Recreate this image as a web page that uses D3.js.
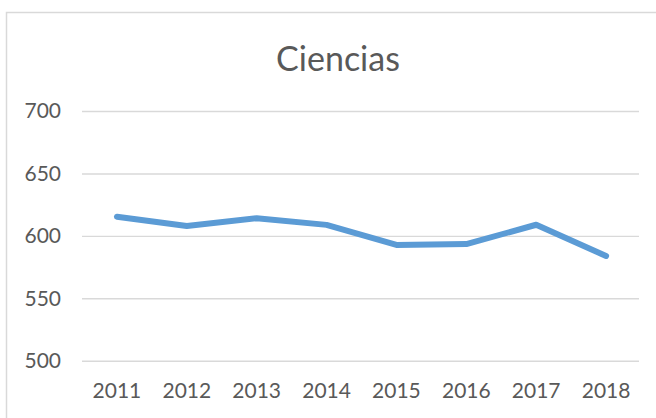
<!DOCTYPE html>
<html>
<head>
<meta charset="utf-8">
<script src="https://cdn.jsdelivr.net/npm/d3@7"></script>
<style>
  body { margin: 0; background: #fff; }
  svg { display: block; }
  .tick text { font-family: Lato, "Open Sans", sans-serif; fill: #595959; }
</style>
</head>
<body>
<svg width="656" height="418"></svg>
<script>
var years = ["2011", "2012", "2013", "2014", "2015", "2016", "2017", "2018"];
var ciencias = [615.3, 607.9, 614.1, 608.8, 592.7, 593.4, 608.9, 583.9];
var yTicks = [500, 550, 600, 650, 700];

var svg = d3.select("svg"),
    width = +svg.attr("width"),
    height = +svg.attr("height");

// chart frame, runs off the right and bottom edges like the screenshot
svg.append("rect")
    .attr("x", 6.5)
    .attr("y", 12.5)
    .attr("width", 700)
    .attr("height", 500)
    .attr("fill", "#fff")
    .attr("stroke", "#d9d9d9")
    .attr("stroke-width", 1.5);

var x = d3.scaleBand().domain(years).range([82, 641]);
var y = d3.scaleLinear().domain([500, 700]).range([360.7, 111]);

svg.append("text")
    .attr("x", 338)
    .attr("y", 71)
    .attr("text-anchor", "middle")
    .attr("font-family", "Lato, 'Open Sans', sans-serif")
    .attr("font-size", 34)
    .attr("fill", "#595959")
    .text("Ciencias");

var yAxis = svg.append("g")
    .attr("transform", "translate(82,0)")
    .call(d3.axisLeft(y).tickValues(yTicks).tickSize(-557).tickPadding(21));
yAxis.select(".domain").remove();
yAxis.selectAll(".tick line").attr("stroke", "#d9d9d9").attr("stroke-width", 1.4);
yAxis.selectAll(".tick text").attr("font-size", 21);

var xAxis = svg.append("g")
    .attr("transform", "translate(0," + y(500) + ")")
    .call(d3.axisBottom(x).tickSize(0).tickPadding(22));
xAxis.select(".domain").remove();
xAxis.selectAll(".tick text").attr("font-size", 21);

var line = d3.line()
    .x(function (d, i) { return x(years[i]) + x.bandwidth() / 2; })
    .y(function (d) { return y(d); });

svg.append("path")
    .datum(ciencias)
    .attr("fill", "none")
    .attr("stroke", "#5b9bd5")
    .attr("stroke-width", 6)
    .attr("stroke-linecap", "round")
    .attr("stroke-linejoin", "round")
    .attr("d", line);
</script>
</body>
</html>
